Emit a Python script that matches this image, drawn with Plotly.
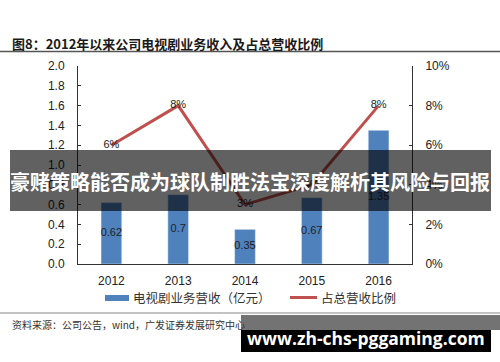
import plotly.graph_objects as go

years = ["2012", "2013", "2014", "2015", "2016"]
revenue = [0.62, 0.70, 0.35, 0.67, 1.35]
share = [0.06, 0.08, 0.03, 0.04, 0.08]
share_labels = ["6%", "8%", "3%", "4%", "8%"]

title_text = "图8：2012年以来公司电视剧业务收入及占总营收比例"
legend_bar = "电视剧业务营收（亿元）"
legend_line = "占总营收比例"
source_text = "资料来源：公司公告，wind，广发证券发展研究中心"
banner_text = "豪赌策略能否成为球队制胜法宝深度解析其风险与回报"
watermark_text = "www.zh-chs-pggaming.com"

W, H = 500, 362
L, R, T, B = 78, 412, 66, 264


def px(x):
    return (x - L) / (R - L)


def py(y):
    return (B - y) / (B - T)


BLUE = "#4F81BD"
RED = "#C0504D"
AX = "#333333"
num_font = dict(family="Liberation Sans, Arial", size=11, color="#222222")
cjk = "Noto Sans CJK SC"

fig = go.Figure()
fig.add_trace(go.Bar(x=years, y=revenue, marker_color=BLUE, width=0.31,
                     showlegend=False, hoverinfo="skip"))
fig.add_trace(go.Scatter(x=years, y=[v / 2 for v in revenue], mode="text",
                         text=[f"{v:g}" for v in revenue], textposition="middle center",
                         textfont=num_font, showlegend=False, hoverinfo="skip"))
fig.add_trace(go.Scatter(x=years, y=share, yaxis="y2", mode="lines+text",
                         line=dict(color=RED, width=3), text=share_labels,
                         textposition="middle center", textfont=num_font,
                         showlegend=False, hoverinfo="skip"))

shapes = [
    dict(type="line", xref="paper", yref="paper", x0=px(0), x1=px(500), y0=py(51.5), y1=py(51.5),
         line=dict(color="#555555", width=1.5)),
    dict(type="line", xref="paper", yref="paper", x0=px(0), x1=px(500), y0=py(313), y1=py(313),
         line=dict(color="#888888", width=1.2)),
    dict(type="rect", xref="paper", yref="paper", x0=px(105), x1=px(129), y0=py(295), y1=py(301),
         fillcolor=BLUE, line=dict(width=0)),
    dict(type="line", xref="paper", yref="paper", x0=px(290), x1=px(317), y0=py(297.5), y1=py(297.5),
         line=dict(color=RED, width=3)),
    dict(type="rect", xref="paper", yref="paper", x0=px(10), x1=px(491), y0=py(150), y1=py(211),
         fillcolor="rgba(0,0,0,0.62)", line=dict(width=0), layer="above"),
    dict(type="rect", xref="paper", yref="paper", x0=px(241), x1=px(500), y0=py(315), y1=py(330),
         fillcolor="rgba(0,0,0,0.55)", line=dict(width=0), layer="above"),
    dict(type="rect", xref="paper", yref="paper", x0=px(241), x1=px(491), y0=py(330), y1=py(352),
         fillcolor="#000000", line=dict(width=0), layer="above"),
]

annotations = [
    dict(text=title_text, x=px(10), y=py(43), xref="paper", yref="paper", xanchor="left",
         yanchor="middle", showarrow=False,
         font=dict(family=cjk, size=13, color="#1a1a1a", weight="bold")),
    dict(text=legend_bar, x=px(131), y=py(297.5), xref="paper", yref="paper", xanchor="left",
         yanchor="middle", showarrow=False, font=dict(family=cjk, size=12.5, color="#333333")),
    dict(text=legend_line, x=px(319), y=py(297.5), xref="paper", yref="paper", xanchor="left",
         yanchor="middle", showarrow=False, font=dict(family=cjk, size=12.5, color="#333333")),
    dict(text=source_text, x=px(10), y=py(324), xref="paper", yref="paper", xanchor="left",
         yanchor="middle", showarrow=False, font=dict(family=cjk, size=10, color="#333333")),
    dict(text=banner_text, x=px(250), y=py(181), xref="paper", yref="paper", xanchor="center",
         yanchor="middle", showarrow=False,
         font=dict(family=cjk, size=20, color="#ffffff", weight="bold")),
    dict(text=watermark_text, x=px(366), y=py(338), xref="paper", yref="paper", xanchor="center",
         yanchor="middle", showarrow=False,
         font=dict(family="Open Sans", size=17.5, color="#ffffff", weight="bold")),
]

fig.update_layout(
    width=W, height=H, autosize=False,
    margin=dict(l=L, r=W - R, t=T, b=H - B, pad=0),
    paper_bgcolor="white", plot_bgcolor="white",
    bargap=0.69,
    xaxis=dict(type="category", showline=True, linecolor=AX, linewidth=1, ticks="",
               tickfont=dict(family="Liberation Sans, Arial", size=12, color="#222222"),
               ticklabelstandoff=6, showgrid=False, zeroline=False, fixedrange=True),
    yaxis=dict(range=[0, 2.0], dtick=0.2, tickformat=".1f", showline=True, linecolor=AX,
               linewidth=1, ticks="inside", ticklen=3, tickcolor=AX, showgrid=False,
               zeroline=False, tickfont=dict(family="Liberation Sans, Arial", size=12, color="#222222"),
               ticklabelstandoff=10),
    yaxis2=dict(range=[0, 0.10], dtick=0.02, tickformat=".0%", overlaying="y", side="right",
                anchor="x", showline=True, linecolor=AX, linewidth=1, ticks="inside", ticklen=3,
                tickcolor=AX, showgrid=False, zeroline=False,
                tickfont=dict(family="Liberation Sans, Arial", size=12, color="#222222"),
                ticklabelstandoff=10),
    shapes=shapes, annotations=annotations,
)

fig.write_html("out.html")
